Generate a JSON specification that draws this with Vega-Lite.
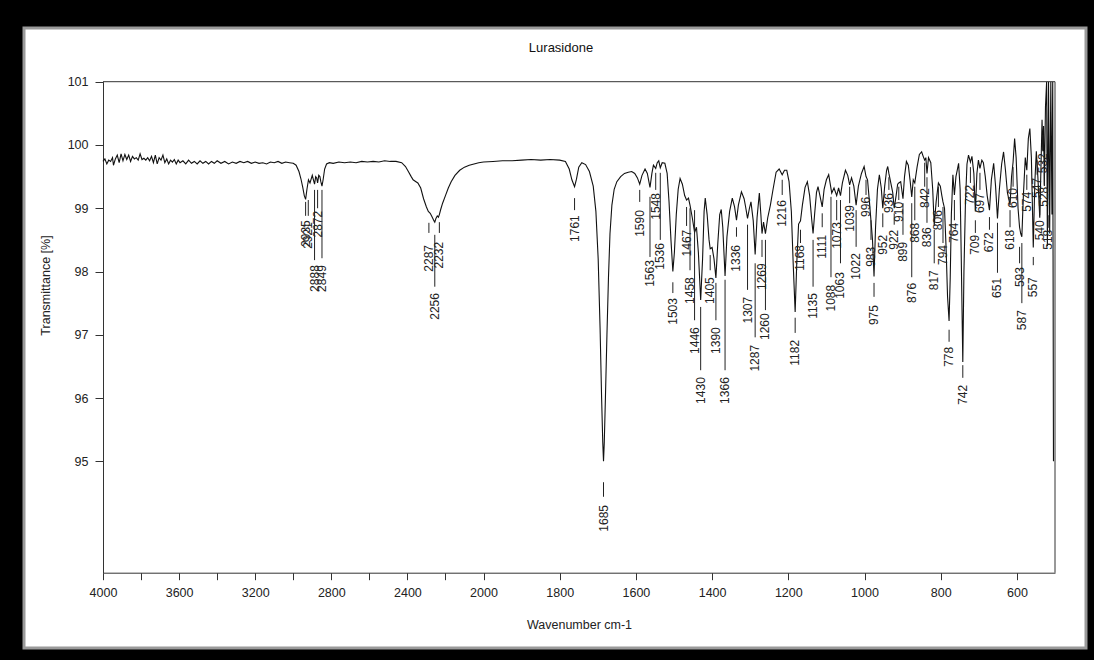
{
  "$schema": "https://vega.github.io/schema/vega-lite/v6.json",
  "autosize": {"type": "none"},
  "width": 1062,
  "height": 620,
  "padding": {"left": 24, "top": 28, "right": 8, "bottom": 12},
  "background": "black",
  "config": {
    "view": {"fill": "white", "stroke": "#9a9a9a", "strokeWidth": 3},
    "font": "Liberation Sans",
    "axis": {"grid": false, "labelFlush": false, "labelOverlap": false, "labelBound": false, "domainColor": "#333", "tickColor": "#333", "labelColor": "#222", "titleColor": "#222", "labelFont": "Liberation Sans", "titleFont": "Liberation Sans", "labelFontSize": 12.5, "titleFontSize": 12.5, "titleFontWeight": "normal", "domainWidth": 1, "tickWidth": 1}
  },
  "title": {"text": "Lurasidone", "anchor": "middle", "frame": "group", "offset": 0, "dy": 27, "dx": 6, "fontSize": 13, "fontWeight": "normal", "color": "#111", "font": "Liberation Sans"},
  "datasets": {
    "spec": [
      {"w":4000,"T":99.74},{"w":3990,"T":99.78},{"w":3980,"T":99.70},{"w":3970,"T":99.76},{"w":3960,"T":99.74},{"w":3950,"T":99.80},{"w":3945,"T":99.68},{"w":3935,"T":99.78},{"w":3925,"T":99.84},{"w":3915,"T":99.72},{"w":3905,"T":99.86},{"w":3895,"T":99.75},{"w":3885,"T":99.85},{"w":3875,"T":99.77},{"w":3865,"T":99.84},{"w":3855,"T":99.74},{"w":3845,"T":99.82},{"w":3835,"T":99.78},{"w":3825,"T":99.80},{"w":3815,"T":99.76},{"w":3805,"T":99.86},{"w":3795,"T":99.77},{"w":3785,"T":99.79},{"w":3775,"T":99.76},{"w":3765,"T":99.80},{"w":3755,"T":99.75},{"w":3745,"T":99.82},{"w":3735,"T":99.72},{"w":3725,"T":99.84},{"w":3715,"T":99.70},{"w":3705,"T":99.80},{"w":3695,"T":99.76},{"w":3685,"T":99.84},{"w":3675,"T":99.72},{"w":3665,"T":99.78},{"w":3655,"T":99.70},{"w":3645,"T":99.76},{"w":3635,"T":99.73},{"w":3625,"T":99.77},{"w":3615,"T":99.70},{"w":3605,"T":99.76},{"w":3595,"T":99.72},{"w":3580,"T":99.75},{"w":3565,"T":99.70},{"w":3550,"T":99.76},{"w":3535,"T":99.71},{"w":3520,"T":99.74},{"w":3505,"T":99.70},{"w":3490,"T":99.75},{"w":3475,"T":99.71},{"w":3460,"T":99.74},{"w":3445,"T":99.70},{"w":3430,"T":99.74},{"w":3415,"T":99.71},{"w":3400,"T":99.75},{"w":3380,"T":99.71},{"w":3360,"T":99.74},{"w":3340,"T":99.70},{"w":3320,"T":99.73},{"w":3300,"T":99.71},{"w":3280,"T":99.74},{"w":3260,"T":99.72},{"w":3240,"T":99.74},{"w":3220,"T":99.71},{"w":3200,"T":99.73},{"w":3180,"T":99.71},{"w":3160,"T":99.72},{"w":3140,"T":99.70},{"w":3120,"T":99.73},{"w":3100,"T":99.72},{"w":3080,"T":99.74},{"w":3060,"T":99.71},{"w":3040,"T":99.73},{"w":3020,"T":99.72},{"w":3000,"T":99.71},{"w":2985,"T":99.68},{"w":2970,"T":99.58},{"w":2960,"T":99.47},{"w":2950,"T":99.33},{"w":2942,"T":99.2},{"w":2935,"T":99.14},{"w":2928,"T":99.3},{"w":2920,"T":99.45},{"w":2912,"T":99.4},{"w":2900,"T":99.52},{"w":2895,"T":99.46},{"w":2888,"T":99.38},{"w":2882,"T":99.5},{"w":2877,"T":99.48},{"w":2872,"T":99.4},{"w":2866,"T":99.52},{"w":2860,"T":99.5},{"w":2855,"T":99.42},{"w":2849,"T":99.35},{"w":2843,"T":99.45},{"w":2835,"T":99.62},{"w":2825,"T":99.7},{"w":2810,"T":99.72},{"w":2790,"T":99.71},{"w":2760,"T":99.73},{"w":2730,"T":99.72},{"w":2700,"T":99.73},{"w":2670,"T":99.72},{"w":2640,"T":99.74},{"w":2610,"T":99.73},{"w":2580,"T":99.74},{"w":2550,"T":99.73},{"w":2520,"T":99.75},{"w":2490,"T":99.74},{"w":2460,"T":99.74},{"w":2430,"T":99.72},{"w":2410,"T":99.66},{"w":2395,"T":99.58},{"w":2380,"T":99.5},{"w":2370,"T":99.45},{"w":2355,"T":99.42},{"w":2345,"T":99.4},{"w":2330,"T":99.32},{"w":2315,"T":99.15},{"w":2300,"T":99.02},{"w":2290,"T":98.95},{"w":2280,"T":98.92},{"w":2270,"T":98.86},{"w":2260,"T":98.8},{"w":2256,"T":98.78},{"w":2250,"T":98.84},{"w":2243,"T":98.88},{"w":2237,"T":98.86},{"w":2232,"T":98.9},{"w":2225,"T":98.98},{"w":2215,"T":99.08},{"w":2200,"T":99.2},{"w":2185,"T":99.32},{"w":2170,"T":99.42},{"w":2150,"T":99.52},{"w":2125,"T":99.6},{"w":2100,"T":99.65},{"w":2075,"T":99.68},{"w":2050,"T":99.7},{"w":2025,"T":99.72},
      {"w":2000,"T":99.73},{"w":1975,"T":99.74},{"w":1950,"T":99.75},{"w":1925,"T":99.75},{"w":1900,"T":99.76},{"w":1875,"T":99.77},{"w":1850,"T":99.76},{"w":1825,"T":99.77},{"w":1800,"T":99.76},{"w":1785,"T":99.74},{"w":1775,"T":99.62},{"w":1768,"T":99.45},{"w":1761,"T":99.34},{"w":1756,"T":99.46},{"w":1750,"T":99.65},{"w":1742,"T":99.72},{"w":1732,"T":99.69},{"w":1722,"T":99.58},{"w":1712,"T":99.35},{"w":1705,"T":98.95},{"w":1699,"T":98.2},{"w":1694,"T":97.1},{"w":1690,"T":96.0},{"w":1687,"T":95.3},{"w":1685,"T":95.0},{"w":1683,"T":95.3},{"w":1680,"T":96.0},{"w":1676,"T":97.0},{"w":1672,"T":97.9},{"w":1668,"T":98.6},{"w":1663,"T":99.05},{"w":1657,"T":99.3},{"w":1650,"T":99.42},{"w":1640,"T":99.5},{"w":1630,"T":99.55},{"w":1620,"T":99.57},{"w":1611,"T":99.58},{"w":1603,"T":99.55},{"w":1596,"T":99.48},{"w":1590,"T":99.38},{"w":1584,"T":99.52},{"w":1576,"T":99.62},{"w":1570,"T":99.55},{"w":1563,"T":99.33},{"w":1558,"T":99.55},{"w":1554,"T":99.68},{"w":1548,"T":99.63},{"w":1544,"T":99.72},{"w":1540,"T":99.75},{"w":1536,"T":99.64},{"w":1531,"T":99.72},{"w":1524,"T":99.71},{"w":1518,"T":99.55},{"w":1513,"T":99.1},{"w":1508,"T":98.5},{"w":1503,"T":98.0},{"w":1499,"T":98.3},{"w":1494,"T":98.9},{"w":1489,"T":99.3},{"w":1484,"T":99.47},{"w":1478,"T":99.38},{"w":1472,"T":99.2},{"w":1467,"T":99.13},{"w":1462,"T":99.16},{"w":1458,"T":99.05},{"w":1452,"T":98.85},{"w":1446,"T":98.62},{"w":1441,"T":98.7},{"w":1436,"T":98.3},{"w":1430,"T":97.55},{"w":1425,"T":98.2},{"w":1421,"T":98.95},{"w":1418,"T":99.16},{"w":1413,"T":98.9},{"w":1408,"T":98.5},{"w":1405,"T":98.36},{"w":1400,"T":98.38},{"w":1395,"T":98.2},{"w":1390,"T":97.9},{"w":1385,"T":98.45},{"w":1380,"T":98.9},{"w":1376,"T":98.98},{"w":1372,"T":98.7},{"w":1366,"T":97.93},{"w":1361,"T":98.55},{"w":1354,"T":98.95},{"w":1347,"T":99.16},{"w":1341,"T":99.02},{"w":1336,"T":98.81},{"w":1331,"T":99.05},{"w":1323,"T":99.26},{"w":1316,"T":99.15},{"w":1312,"T":99.02},{"w":1307,"T":98.84},{"w":1302,"T":99.0},{"w":1298,"T":99.1},{"w":1292,"T":98.8},{"w":1287,"T":98.27},{"w":1282,"T":98.85},{"w":1276,"T":99.24},{"w":1272,"T":98.9},{"w":1269,"T":98.6},{"w":1265,"T":98.78},{"w":1260,"T":98.6},{"w":1254,"T":98.85},{"w":1247,"T":99.05},{"w":1240,"T":99.3},{"w":1232,"T":99.57},{"w":1224,"T":99.62},{"w":1216,"T":99.53},{"w":1210,"T":99.6},{"w":1204,"T":99.6},{"w":1198,"T":99.42},{"w":1192,"T":98.95},{"w":1187,"T":98.1},{"w":1182,"T":97.36},{"w":1178,"T":98.1},{"w":1173,"T":98.75},{"w":1168,"T":98.8},{"w":1163,"T":99.05},{"w":1156,"T":99.33},{"w":1150,"T":99.42},{"w":1144,"T":99.2},{"w":1139,"T":98.85},{"w":1135,"T":98.6},{"w":1131,"T":98.9},{"w":1126,"T":99.25},{"w":1122,"T":99.34},{"w":1117,"T":99.2},{"w":1111,"T":99.02},{"w":1106,"T":99.3},{"w":1100,"T":99.45},{"w":1094,"T":99.53},{"w":1089,"T":99.35},{"w":1086,"T":99.24},{"w":1080,"T":99.32},{"w":1073,"T":99.2},{"w":1068,"T":99.32},{"w":1063,"T":99.2},{"w":1058,"T":99.4},{"w":1050,"T":99.6},{"w":1044,"T":99.52},{"w":1039,"T":99.37},{"w":1034,"T":99.48},{"w":1028,"T":99.35},{"w":1022,"T":99.05},{"w":1016,"T":99.35},{"w":1008,"T":99.55},{"w":1001,"T":99.66},{"w":996,"T":99.5},{"w":992,"T":99.45},{"w":987,"T":99.1},{"w":983,"T":98.8},{"w":979,"T":98.5},{"w":975,"T":97.92},{"w":971,"T":98.7},{"w":966,"T":99.3},{"w":961,"T":99.53},{"w":956,"T":99.32},{"w":952,"T":99.0},{"w":947,"T":99.35},{"w":942,"T":99.6},{"w":939,"T":99.66},{"w":936,"T":99.55},{"w":931,"T":99.4},{"w":926,"T":99.25},{"w":922,"T":99.0},{"w":917,"T":99.2},{"w":913,"T":99.38},{"w":910,"T":99.4},{"w":905,"T":99.42},{"w":899,"T":99.15},{"w":895,"T":99.5},{"w":890,"T":99.74},{"w":885,"T":99.68},{"w":880,"T":99.42},{"w":876,"T":99.18},{"w":872,"T":99.45},{"w":868,"T":99.4},{"w":862,"T":99.65},{"w":856,"T":99.85},{"w":850,"T":99.89},{"w":846,"T":99.82},{"w":842,"T":99.76},{"w":839,"T":99.8},{"w":836,"T":99.55},{"w":832,"T":99.8},{"w":826,"T":99.72},{"w":821,"T":99.3},{"w":817,"T":98.73},{"w":812,"T":99.1},{"w":806,"T":99.4},{"w":801,"T":99.35},{"w":797,"T":99.2},{"w":794,"T":99.1},{"w":790,"T":99.0},{"w":786,"T":98.4},{"w":782,"T":97.6},{"w":778,"T":97.22},{"w":775,"T":97.9},{"w":772,"T":98.9},{"w":768,"T":99.53},{"w":764,"T":99.21},{"w":760,"T":99.5},{"w":753,"T":99.71},{"w":749,"T":99.3},{"w":746,"T":98.2},{"w":742,"T":96.57},{"w":739,"T":98.0},{"w":735,"T":99.1},{"w":731,"T":99.7},{"w":727,"T":99.84},{"w":722,"T":99.73},{"w":718,"T":99.82},{"w":713,"T":99.55},{"w":709,"T":98.95},{"w":705,"T":99.55},{"w":701,"T":99.76},{"w":697,"T":99.63},{"w":692,"T":99.76},{"w":688,"T":99.72},{"w":683,"T":99.5},{"w":678,"T":99.2},{"w":672,"T":98.97},{"w":667,"T":99.45},{"w":661,"T":99.71},{"w":656,"T":99.35},{"w":651,"T":98.84},{"w":646,"T":99.3},{"w":640,"T":99.7},{"w":635,"T":99.89},{"w":630,"T":99.6},{"w":625,"T":99.25},{"w":618,"T":99.05},{"w":614,"T":99.5},{"w":610,"T":99.73},{"w":606,"T":100.1},{"w":602,"T":99.8},{"w":597,"T":99.0},{"w":593,"T":98.7},{"w":590,"T":98.6},{"w":587,"T":98.55},{"w":583,"T":99.2},{"w":578,"T":99.8},{"w":574,"T":99.6},{"w":570,"T":100.1},{"w":566,"T":100.26},{"w":562,"T":99.8},{"w":557,"T":98.38},{"w":553,"T":99.4},{"w":549,"T":99.9},{"w":545,"T":99.5},{"w":540,"T":98.85},{"w":537,"T":99.6},{"w":534,"T":100.4},{"w":532,"T":99.9},{"w":530,"T":100.3},{"w":528,"T":99.35},{"w":525,"T":100.6},{"w":522,"T":101.0},{"w":520,"T":98.4},{"w":517,"T":101.0},{"w":514,"T":98.6},{"w":511,"T":101.0},{"w":508,"T":98.9},{"w":506,"T":101.0},{"w":504,"T":95.0}
    ],
    "peaks": [
      {"w":2935,"t1":99.10,"t2":98.88,"tt":98.81},{"w":2921,"t1":99.13,"t2":98.88,"tt":98.78},{"w":2888,"t1":99.29,"t2":98.18,"tt":98.10},{"w":2872,"t1":99.29,"t2":99.00,"tt":98.96},{"w":2849,"t1":99.29,"t2":98.21,"tt":98.10},
      {"w":2287,"t1":98.77,"t2":98.61,"tt":98.42},{"w":2256,"t1":98.58,"t2":97.76,"tt":97.66},{"w":2232,"t1":98.78,"t2":98.61,"tt":98.47},
      {"w":1761,"t1":99.16,"t2":98.97,"tt":98.89},{"w":1685,"t1":94.67,"t2":94.44,"tt":94.31},{"w":1590,"t1":99.29,"t2":99.10,"tt":98.97},{"w":1563,"t1":99.18,"t2":98.23,"tt":98.18},{"w":1548,"t1":99.56,"t2":99.29,"tt":99.24},{"w":1536,"t1":99.56,"t2":98.50,"tt":98.45},{"w":1503,"t1":97.83,"t2":97.66,"tt":97.58},{"w":1467,"t1":99.02,"t2":98.72,"tt":98.66},{"w":1458,"t1":99.00,"t2":98.02,"tt":97.91},{"w":1446,"t1":98.97,"t2":97.23,"tt":97.12},{"w":1430,"t1":97.44,"t2":96.44,"tt":96.33},{"w":1405,"t1":98.26,"t2":98.02,"tt":97.91},{"w":1390,"t1":97.82,"t2":97.23,"tt":97.12},{"w":1366,"t1":97.87,"t2":96.44,"tt":96.33},{"w":1336,"t1":98.70,"t2":98.55,"tt":98.42},{"w":1307,"t1":98.74,"t2":97.71,"tt":97.60},{"w":1287,"t1":98.13,"t2":96.96,"tt":96.84},{"w":1269,"t1":98.50,"t2":98.23,"tt":98.13},{"w":1260,"t1":98.50,"t2":97.39,"tt":97.34},{"w":1216,"t1":99.45,"t2":99.21,"tt":99.13},{"w":1182,"t1":97.27,"t2":97.03,"tt":96.92},{"w":1168,"t1":98.66,"t2":98.45,"tt":98.42},{"w":1135,"t1":98.50,"t2":97.76,"tt":97.66},{"w":1111,"t1":98.92,"t2":98.70,"tt":98.58},{"w":1088,"t1":99.18,"t2":97.91,"tt":97.79},{"w":1073,"t1":99.13,"t2":98.81,"tt":98.78},{"w":1063,"t1":99.13,"t2":98.13,"tt":97.99},{"w":1039,"t1":99.34,"t2":99.08,"tt":99.05},{"w":1022,"t1":98.97,"t2":98.39,"tt":98.29},{"w":996,"t1":99.45,"t2":99.21,"tt":99.18},{"w":983,"t1":98.81,"t2":98.50,"tt":98.39},{"w":975,"t1":97.82,"t2":97.60,"tt":97.47},{"w":952,"t1":98.92,"t2":98.70,"tt":98.58},{"w":936,"t1":99.49,"t2":99.29,"tt":99.24},{"w":922,"t1":98.92,"t2":98.74,"tt":98.66},{"w":910,"t1":99.34,"t2":99.13,"tt":99.10},{"w":899,"t1":99.08,"t2":98.58,"tt":98.47},{"w":876,"t1":99.08,"t2":97.91,"tt":97.82},{"w":868,"t1":99.34,"t2":98.81,"tt":98.77},{"w":842,"t1":99.72,"t2":99.34,"tt":99.32},{"w":836,"t1":99.49,"t2":98.77,"tt":98.70},{"w":817,"t1":98.66,"t2":98.13,"tt":98.02},{"w":806,"t1":99.34,"t2":99.02,"tt":98.97},{"w":794,"t1":99.02,"t2":98.45,"tt":98.42},{"w":778,"t1":97.08,"t2":96.89,"tt":96.81},{"w":764,"t1":99.13,"t2":98.81,"tt":98.77},{"w":742,"t1":96.52,"t2":96.32,"tt":96.21},{"w":722,"t1":99.65,"t2":99.40,"tt":99.37},{"w":709,"t1":98.81,"t2":98.61,"tt":98.58},{"w":697,"t1":99.56,"t2":99.29,"tt":99.24},{"w":672,"t1":98.86,"t2":98.66,"tt":98.62},{"w":651,"t1":98.77,"t2":97.98,"tt":97.90},{"w":618,"t1":98.97,"t2":98.70,"tt":98.66},{"w":610,"t1":99.65,"t2":99.34,"tt":99.32},{"w":593,"t1":98.39,"t2":98.13,"tt":98.07},{"w":587,"t1":98.45,"t2":97.50,"tt":97.39},{"w":574,"t1":99.53,"t2":99.29,"tt":99.26},{"w":557,"t1":98.23,"t2":98.10,"tt":97.91},{"w":547,"t1":99.76,"t2":99.53,"tt":99.48},{"w":540,"t1":99.13,"t2":98.89,"tt":98.81},{"w":532,"t1":100.16,"t2":99.92,"tt":99.87},{"w":528,"t1":99.60,"t2":99.37,"tt":99.34},{"w":518,"t1":98.89,"t2":98.69,"tt":98.66}
    ]
  },
  "layer": [
    {
      "data": {"name": "spec"},
      "mark": {"type": "line", "color": "#111", "strokeWidth": 1.1},
      "encoding": {
        "x": {"field": "w", "type": "quantitative",
          "scale": {"domain": [4000, 2000, 500], "range": [79, 459.5, 1031], "nice": false, "zero": false},
          "axis": {"values": [4000,3800,3600,3400,3200,3000,2800,2600,2400,2200,2000,1800,1600,1400,1200,1000,800,600], "format": "d", "labelExpr": "datum.value > 2000 && datum.value % 400 != 0 ? '' : datum.label", "offset": -75.3, "tickSize": 7, "labelPadding": 7, "title": "Wavenumber cm-1", "titleY": 52, "titleBaseline": "middle"}},
        "y": {"field": "T", "type": "quantitative",
          "scale": {"domain": [93.24, 101], "range": [544.7, 53.7], "nice": false, "zero": false},
          "axis": {"values": [95, 96, 97, 98, 99, 100, 101], "format": "d", "offset": -79, "tickSize": 8, "labelPadding": 7, "title": "Transmittance [%]", "titleX": -58, "titleY": 257, "titleBaseline": "middle", "titleAngle": 270}}
      }
    },
    {
      "data": {"name": "peaks"},
      "mark": {"type": "rule", "color": "#222", "strokeWidth": 1},
      "encoding": {
        "x": {"field": "w", "type": "quantitative"},
        "y": {"field": "t1", "type": "quantitative"},
        "y2": {"field": "t2"}
      }
    },
    {
      "data": {"name": "peaks"},
      "mark": {"type": "text", "angle": 270, "align": "right", "baseline": "middle", "fontSize": 12, "color": "#222", "font": "Liberation Sans"},
      "encoding": {
        "x": {"field": "w", "type": "quantitative"},
        "y": {"field": "tt", "type": "quantitative"},
        "text": {"field": "w", "type": "nominal"}
      }
    },
    {
      "data": {"values": [{}]},
      "mark": {"type": "rule", "color": "#333", "strokeWidth": 1},
      "encoding": {"x": {"datum": 4000}, "x2": {"datum": 500}, "y": {"datum": 101}}
    },
    {
      "data": {"values": [{}]},
      "mark": {"type": "rule", "color": "#333", "strokeWidth": 1},
      "encoding": {"x": {"datum": 500}, "y": {"datum": 93.24}, "y2": {"datum": 101}}
    }
  ]
}
